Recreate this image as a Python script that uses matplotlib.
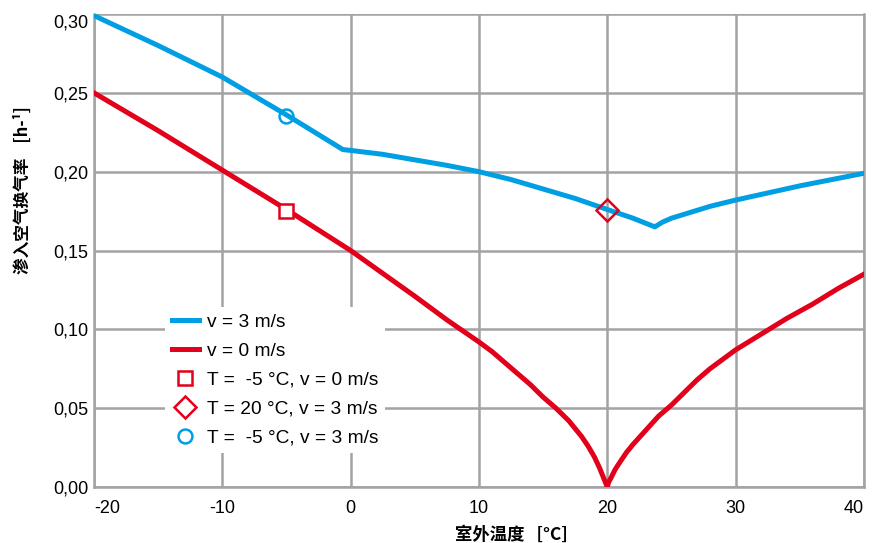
import numpy as np
import matplotlib
matplotlib.use("Agg")
import matplotlib.pyplot as plt
from matplotlib.ticker import FuncFormatter

plt.rcParams['font.family'] = ['Liberation Sans', 'Noto Sans CJK SC', 'DejaVu Sans']

BLUE = '#009fe3'
RED = '#e3001b'
GRID = '#a3a3a3'
CJK = ['Noto Sans CJK SC', 'DejaVu Sans']

# v = 3 m/s
t_blue = [-20, -15, -10, -5, -0.6, 0, 2.5, 5, 7.5, 10, 12.5, 15, 17.5, 20, 22, 23.7,
          24.3, 25, 26, 27, 28, 30, 32.5, 35, 37.5, 40]
n_blue = [0.299, 0.280, 0.260, 0.236, 0.214, 0.2135, 0.211, 0.2075, 0.204, 0.200, 0.195, 0.189, 0.183, 0.176, 0.1705, 0.165,
          0.168, 0.1705, 0.173, 0.1755, 0.178, 0.182, 0.1865, 0.191, 0.195, 0.199]

# v = 0 m/s
t_red = [-20, -15, -10, -5, 0, 2.5, 5, 7.5, 10, 11, 12, 13, 14, 15, 16, 17, 17.5, 18, 18.5, 19, 19.4, 19.7, 19.9, 20,
         20.1, 20.3, 20.6, 21, 21.5, 22, 23, 24, 25, 26, 27, 28, 29, 30, 32, 34, 36, 38, 40]
n_red = [0.250, 0.226, 0.201, 0.176, 0.150, 0.1355, 0.121, 0.106, 0.092, 0.086, 0.079, 0.072, 0.065, 0.057, 0.050, 0.042, 0.037, 0.032, 0.026, 0.019, 0.012, 0.006, 0.002, 0.0,
         0.003, 0.006, 0.011, 0.016, 0.022, 0.027, 0.036, 0.045, 0.052, 0.060, 0.068, 0.075, 0.081, 0.087, 0.097, 0.107, 0.116, 0.126, 0.135]

# marked points
pt_sq = (-5, 0.175)
pt_dia = (20, 0.176)
pt_circ = (-5, 0.235)

fig = plt.figure(figsize=(8.75, 5.43), dpi=100)
ax = fig.add_axes([0.1074, 0.1031, 0.8800, 0.8711])

ax.plot(t_blue, n_blue, color=BLUE, lw=3.6, label='v = 3 m/s', zorder=3, solid_joinstyle='round')
ax.plot(t_red, n_red, color=RED, lw=3.6, label='v = 0 m/s', zorder=3, solid_joinstyle='round')
ax.plot(*pt_sq, 's', ms=9.5, mfc='white', mec=RED, mew=1.8, zorder=4, ls='none', label='T =  -5 °C, v = 0 m/s')
ax.plot(*pt_dia, 'D', ms=11, mfc='none', mec=RED, mew=1.8, zorder=4, ls='none', label='T = 20 °C, v = 3 m/s')
ax.plot(*pt_circ, 'o', ms=10, mfc='none', mec=BLUE, mew=1.8, zorder=4, ls='none', label='T =  -5 °C, v = 3 m/s')

ax.set_xlim(-20, 40)
ax.set_ylim(0, 0.30)
ax.set_xticks(np.arange(-20, 41, 10))
ax.set_yticks(np.arange(0, 0.31, 0.05))
ax.yaxis.set_major_formatter(FuncFormatter(lambda v, p: f'{v:.2f}'.replace('.', ',')))
ax.xaxis.set_major_formatter(FuncFormatter(lambda v, p: f'{v:.0f}'.replace('\u2212', '-')))
ax.tick_params(length=0, labelsize=13)
ax.tick_params(axis='x', pad=9.5)
ax.tick_params(axis='y', pad=4)
ax.grid(True, color=GRID, lw=1.8)
ax.set_axisbelow(True)
for s in ['left', 'bottom', 'right']:
    ax.spines[s].set_color(GRID)
    ax.spines[s].set_linewidth(1.8)
ax.spines['top'].set_visible(False)

# keep the edge labels inside the plot width, like the original
xl = ax.get_xticklabels()
xl[0].set_ha('left')
xl[-1].set_ha('right')
ax.get_yticklabels()[-1].set_va('top')

fig.text(455 / 875, 1 - 535 / 543, '室外温度   [°C]', fontsize=12.5, fontweight='bold',
         ha='left', va='center', family=CJK)
fig.text(23 / 875, 1 - 190 / 543, '渗入空气换气率    [h-¹]', fontsize=12, fontweight='bold',
         ha='center', va='center', rotation=90, family=CJK)

leg = ax.legend(loc='upper left', bbox_to_anchor=(0.092, 0.381), fontsize=13.8,
                frameon=True, facecolor='white', edgecolor='none', framealpha=1,
                fancybox=False, handlelength=1.45, labelspacing=0.6, borderpad=0.35,
                handletextpad=0.4, borderaxespad=0)
leg.set_zorder(5)

fig.savefig('out.png', dpi=100)
